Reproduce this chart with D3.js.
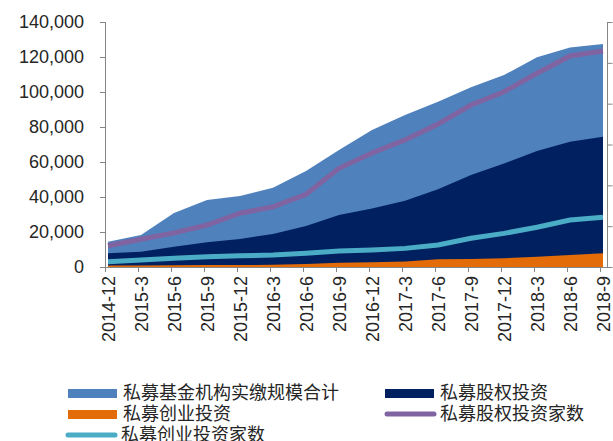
<!DOCTYPE html>
<html>
<head>
<meta charset="utf-8">
<script src="https://cdn.jsdelivr.net/npm/d3@7/dist/d3.min.js"></script>
<style>
body { margin: 0; background: #fff; }
text { font-family: "Liberation Sans", Arial, "Noto Sans CJK SC", sans-serif; fill: #262626; }
.legend text { font-family: "Noto Sans CJK SC", sans-serif; }
</style>
</head>
<body>
<script>
// data
var dates = ["2014-12","2015-3","2015-6","2015-9","2015-12","2016-3","2016-6","2016-9",
  "2016-12","2017-3","2017-6","2017-9","2017-12","2018-3","2018-6","2018-9"];
var totalScale = [14500,18300,30800,38300,40600,45300,54900,66900,78300,86900,94500,102700,109700,119800,125500,127400];
var peScale = [7800,8700,11600,14100,16000,18900,23400,29700,33500,37900,44400,52600,59200,66300,71600,74500];
var vcScale = [800,900,1000,1100,1100,1300,1700,2500,2700,3200,4400,4600,5000,5900,6900,7800];
var peCount = [1300,1700,2090,2570,3290,3690,4450,6040,6980,7780,8750,9920,10730,11860,12920,13220];
var vcCount = [320,430,530,630,690,730,840,980,1040,1140,1350,1760,2060,2430,2880,3040];
var leftTicks = [0,20000,40000,60000,80000,100000,120000,140000];
var rightTicks = [0,2500,5000,7500,10000,12500,15000];

var margin = {top: 22, right: 5, bottom: 174, left: 105};
var width = 613 - margin.left - margin.right;
var height = 441 - margin.top - margin.bottom;

var svg = d3.select("body").append("svg")
  .attr("width", 613)
  .attr("height", 441);

var g = svg.append("g")
  .attr("transform", "translate(" + margin.left + "," + margin.top + ")");

var x = d3.scalePoint().domain(dates).range([3, width - 5]);
var y = d3.scaleLinear().domain([0, 140000]).range([height, 0]);
var y2 = d3.scaleLinear().domain([0, 15000]).range([height, 0]);

function area(vals) {
  return d3.area()
    .x(function(d, i) { return x(dates[i]); })
    .y0(height)
    .y1(function(d) { return y(d); })(vals);
}
function line(vals) {
  return d3.line()
    .x(function(d, i) { return x(dates[i]); })
    .y(function(d) { return y2(d); })(vals);
}

g.append("path").attr("d", area(totalScale)).style("fill", "#4F81BD");
g.append("path").attr("d", area(peScale)).style("fill", "#002060");
g.append("path").attr("d", area(vcScale)).style("fill", "#E36C09");

g.append("path").attr("d", line(peCount))
  .style("fill", "none").style("stroke", "#8064A2").style("stroke-width", 5);
g.append("path").attr("d", line(vcCount))
  .style("fill", "none").style("stroke", "#4BACC6").style("stroke-width", 5);

// axes
var axisColor = "#868686";

var yAxis = g.append("g")
  .call(d3.axisLeft(y).tickValues(leftTicks).tickSize(5).tickPadding(16)
    .tickFormat(d3.format(",")));
yAxis.select(".domain").attr("stroke", axisColor).attr("d", "M0.5," + height + "V0");
yAxis.selectAll(".tick line").attr("stroke", axisColor);
yAxis.selectAll("text").style("font-size", "18px");

var xAxis = g.append("g")
  .attr("transform", "translate(-3," + height + ")")
  .call(d3.axisBottom(x).tickSize(5).tickFormat(""));
xAxis.select(".domain").attr("stroke", axisColor).attr("d", "M3,0.5H" + (width + 3));
xAxis.selectAll(".tick line").attr("stroke", axisColor);

g.append("g").selectAll("text")
  .data(dates)
  .enter().append("text")
  .attr("transform", function(d) { return "translate(" + (x(d) + 1) + "," + (height + 9) + ") rotate(-90)"; })
  .attr("text-anchor", "end")
  .attr("dy", ".35em")
  .style("font-size", "18px")
  .text(function(d) { return d; });

var yAxis2 = g.append("g")
  .attr("transform", "translate(" + (width - 0.5) + ",0)")
  .call(d3.axisRight(y2).tickValues(rightTicks).tickSize(5).tickFormat(""));
yAxis2.select(".domain").attr("stroke", axisColor).attr("d", "M0," + height + "V0");
yAxis2.selectAll(".tick line").attr("stroke", axisColor);

// legend
var legendItems = [
  {name: "私募基金机构实缴规模合计", color: "#4F81BD", type: "rect", x: 68, y: 393},
  {name: "私募股权投资", color: "#002060", type: "rect", x: 385, y: 393},
  {name: "私募创业投资", color: "#E36C09", type: "rect", x: 68, y: 414},
  {name: "私募股权投资家数", color: "#8064A2", type: "line", x: 385, y: 414},
  {name: "私募创业投资家数", color: "#4BACC6", type: "line", x: 66, y: 435}
];

var legend = svg.append("g").attr("class", "legend");
var item = legend.selectAll("g")
  .data(legendItems)
  .enter().append("g")
  .attr("transform", function(d) { return "translate(" + d.x + "," + d.y + ")"; });

item.filter(function(d) { return d.type == "rect"; })
  .append("rect")
  .attr("x", 0).attr("y", -4)
  .attr("width", 49).attr("height", 9)
  .style("fill", function(d) { return d.color; });

item.filter(function(d) { return d.type == "line"; })
  .append("line")
  .attr("x1", 2).attr("x2", 49).attr("y1", 0).attr("y2", 0)
  .style("stroke", function(d) { return d.color; })
  .style("stroke-width", 5)
  .style("stroke-linecap", "round");

item.append("text")
  .attr("x", 55)
  .attr("dy", ".35em")
  .style("font-size", "18px")
  .text(function(d) { return d.name; });
</script>
</body>
</html>
